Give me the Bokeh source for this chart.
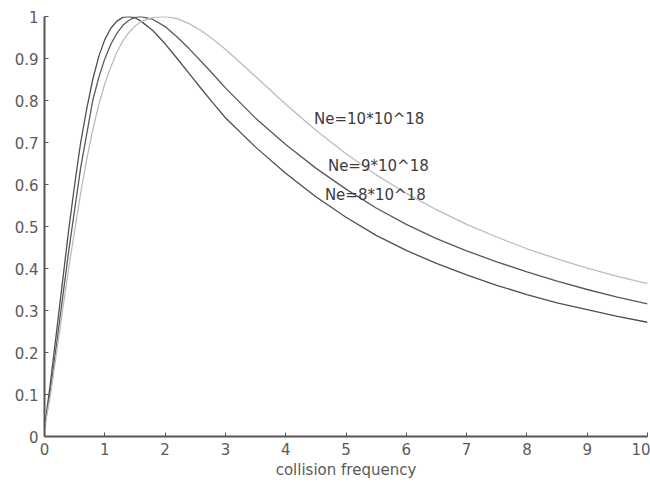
from bokeh.plotting import figure
from bokeh.models import Range1d, FixedTicker, ColumnDataSource
from bokeh.embed import file_html
from bokeh.resources import INLINE
from bokeh.core.properties import value

# collision frequency samples
freq = [0, 0.1, 0.2, 0.3, 0.4, 0.5, 0.6, 0.7, 0.8, 0.9, 1.0, 1.1, 1.2, 1.3, 1.4,
        1.5, 1.6, 1.8, 2.0, 2.2, 2.4, 2.6, 2.8, 3.0, 3.5, 4.0, 4.5, 5.0, 5.5, 6.0,
        6.5, 7.0, 7.5, 8.0, 8.5, 9.0, 9.5, 10.0]

# normalised response for Ne = 8e18
ne8 = [0.02, 0.13, 0.25, 0.37, 0.49, 0.60, 0.70, 0.78, 0.85, 0.905, 0.945, 0.972,
       0.989, 0.998, 1.0, 0.997, 0.989, 0.966, 0.935, 0.90, 0.864, 0.828, 0.793,
       0.759, 0.689, 0.627, 0.571, 0.522, 0.479, 0.443, 0.412, 0.385, 0.36, 0.338,
       0.318, 0.302, 0.286, 0.272]

# normalised response for Ne = 9e18
ne9 = [0.02, 0.11, 0.22, 0.33, 0.44, 0.54, 0.64, 0.72, 0.80, 0.855, 0.899, 0.934,
       0.96, 0.979, 0.991, 0.998, 1.0, 0.993, 0.976, 0.951, 0.923, 0.893, 0.862,
       0.830, 0.758, 0.695, 0.639, 0.589, 0.544, 0.505, 0.471, 0.442, 0.416, 0.392,
       0.37, 0.35, 0.332, 0.316]

# normalised response for Ne = 10e18
ne10 = [0.02, 0.10, 0.20, 0.30, 0.40, 0.49, 0.58, 0.66, 0.73, 0.79, 0.84, 0.88,
        0.915, 0.942, 0.962, 0.977, 0.988, 0.998, 1.0, 0.995, 0.983, 0.966, 0.945,
        0.922, 0.857, 0.791, 0.729, 0.673, 0.623, 0.579, 0.54, 0.505, 0.475, 0.447,
        0.423, 0.401, 0.381, 0.364]

series_labels = ["Ne=8*10^18", "Ne=9*10^18", "Ne=10*10^18"]
label_x = [4.65, 4.70, 4.47]
label_y = [0.574, 0.643, 0.757]

x_ticks = list(range(0, 11))
y_ticks = [round(0.1 * i, 1) for i in range(0, 11)]
y_tick_labels = ["0", "0.1", "0.2", "0.3", "0.4", "0.5", "0.6", "0.7", "0.8", "0.9", "1"]

p = figure(width=650, height=483, output_backend="svg", toolbar_location=None,
           x_range=Range1d(0, 10), y_range=Range1d(0, 1))
p.min_border_left = 44
p.min_border_right = 3
p.min_border_top = 16
p.min_border_bottom = 47
p.outline_line_color = None
p.xgrid.visible = False
p.ygrid.visible = False
p.background_fill_color = "white"
p.border_fill_color = "white"

colors = ["#4f4f4f", "#5f5656", "#bcbcbc"]
for ys, c in zip([ne8, ne9, ne10], colors):
    p.line(freq, ys, line_color=c, line_width=1.3)

src = ColumnDataSource(dict(x=label_x, y=label_y, t=series_labels))
p.text("x", "y", text="t", source=src, text_font=value("DejaVu Sans"),
       text_font_size="15px", text_color="#3c3c3c", text_baseline="middle",
       text_align="left")

for ax in (p.xaxis[0], p.yaxis[0]):
    ax.axis_line_color = "#555555"
    ax.axis_line_width = 2
    ax.major_tick_line_color = "#555555"
    ax.major_tick_in = 4
    ax.major_tick_out = 0
    ax.minor_tick_line_color = None
    ax.major_label_text_font = "DejaVu Sans"
    ax.major_label_text_font_size = "15px"
    ax.major_label_text_color = "#5a5a5a"
    ax.major_label_standoff = 6

p.xaxis.ticker = FixedTicker(ticks=x_ticks)
p.yaxis.ticker = FixedTicker(ticks=y_ticks)
p.yaxis.major_label_overrides = {t: s for t, s in zip(y_ticks, y_tick_labels)}
p.xaxis.axis_label = "collision frequency"
p.xaxis.axis_label_text_font = "DejaVu Sans"
p.xaxis.axis_label_text_font_style = "normal"
p.xaxis.axis_label_text_font_size = "15px"
p.xaxis.axis_label_text_color = "#5a5a5a"
p.xaxis.axis_label_standoff = 3

open("out.html", "w").write(file_html(p, INLINE))
